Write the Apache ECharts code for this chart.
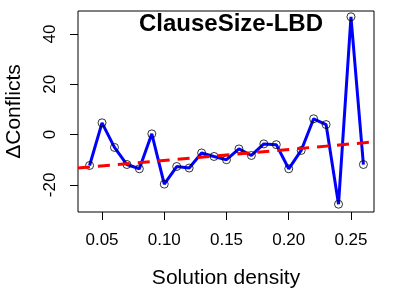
<!DOCTYPE html>
<html lang="en">
<head>
    <meta charset="UTF-8">
    <title>ClauseSize-LBD</title>
    <style>
        body { margin: 0; background: #fff; }
        #main { width: 415px; height: 297px; }
    </style>
</head>
<body>
<div id="main"></div>
<script src="https://cdn.jsdelivr.net/npm/echarts@6/dist/echarts.min.js"></script>
<script>
    // solution density (x) and change in conflicts (y)
    var density = [0.04, 0.05, 0.06, 0.07, 0.08, 0.09, 0.10, 0.11, 0.12, 0.13, 0.14, 0.15,
        0.16, 0.17, 0.18, 0.19, 0.20, 0.21, 0.22, 0.23, 0.24, 0.25, 0.26];
    var deltaConflicts = [-12.3, 4.7, -5.1, -11.9, -13.6, 0.3, -19.7, -12.7, -13.3, -7.3, -8.7, -10.0,
        -5.7, -8.3, -3.7, -4.0, -13.6, -6.3, 6.3, 4.0, -27.7, 46.9, -11.9];
    // fitted trend line, read at the plot edges
    var fitX = [0.0307, 0.2685];
    var fitY = [-13.3, -2.9];
    var xTicks = [0.05, 0.10, 0.15, 0.20, 0.25];
    var yTicks = [-20, 0, 20, 40];

    var pts = density.map(function (d, i) { return [d, deltaConflicts[i]]; });
    var fit = fitX.map(function (d, i) { return [d, fitY[i]]; });
    var font = 'Liberation Sans';

    var chart = echarts.init(document.getElementById('main'));
    chart.setOption({
        animation: false,
        title: {
            text: 'ClauseSize-LBD',
            left: 226,
            top: 7,
            textAlign: 'center',
            textStyle: {fontFamily: font, fontSize: 24, fontWeight: 'bold', color: '#000'}
        },
        grid: {
            left: 78, right: 41, top: 11, bottom: 85,
            outerBoundsMode: 'none',
            containLabel: false,
            show: true, borderColor: '#000', borderWidth: 1
        },
        xAxis: {
            type: 'value',
            min: 0.0307,
            max: 0.2685,
            name: 'Solution density',
            nameLocation: 'middle',
            nameGap: 56,
            nameTextStyle: {fontFamily: font, fontSize: 21, color: '#000'},
            axisLine: {show: false, onZero: false},
            splitLine: {show: false},
            axisTick: {show: true, length: 8, customValues: xTicks, lineStyle: {color: '#000'}},
            axisLabel: {
                customValues: xTicks, margin: 20,
                fontFamily: font, fontSize: 17, color: '#000',
                formatter: function (v) { return v.toFixed(2); }
            }
        },
        yAxis: {
            type: 'value',
            min: -30.8,
            max: 49.2,
            name: 'ΔConflicts',
            nameLocation: 'middle',
            nameGap: 53,
            nameTextStyle: {fontFamily: font, fontSize: 21, color: '#000'},
            axisLine: {show: false, onZero: false},
            splitLine: {show: false},
            axisTick: {show: true, length: 8, customValues: yTicks, lineStyle: {color: '#000'}},
            axisLabel: {
                customValues: yTicks, margin: 19, rotate: 90,
                fontFamily: font, fontSize: 17, color: '#000'
            }
        },
        series: [
            {
                type: 'line',
                data: pts,
                showSymbol: false,
                lineStyle: {color: '#0000ff', width: 3},
                z: 2
            },
            {
                type: 'scatter',
                data: pts,
                symbol: 'circle',
                symbolSize: 8,
                itemStyle: {color: 'rgba(0,0,0,0)', borderColor: '#000', borderWidth: 1},
                z: 3
            },
            {
                type: 'line',
                data: fit,
                showSymbol: false,
                lineStyle: {color: '#ff0000', width: 3, type: [12, 8]},
                z: 4
            }
        ]
    });
</script>
</body>
</html>
